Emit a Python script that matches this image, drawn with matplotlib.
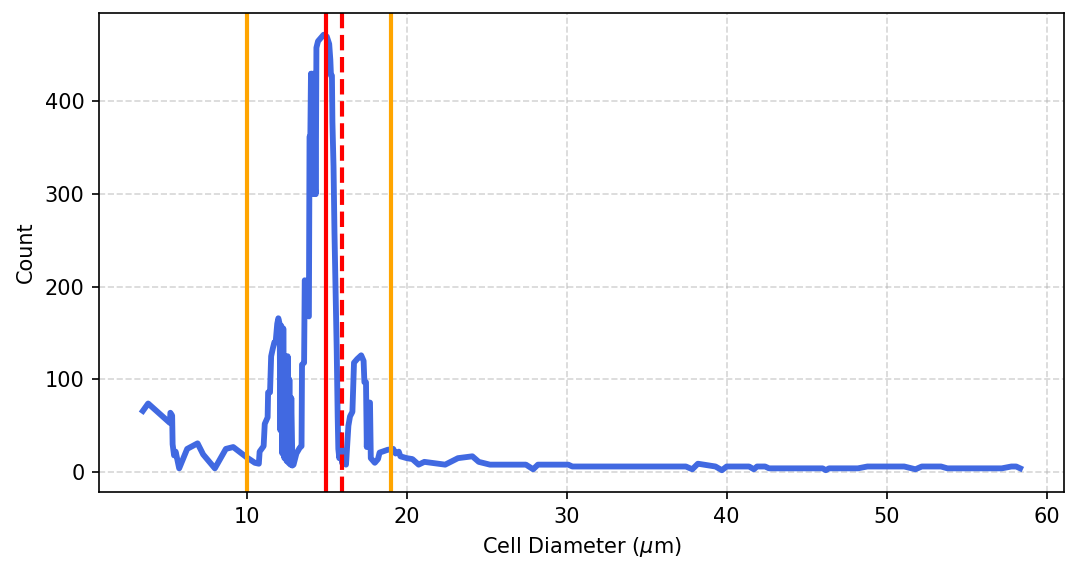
import numpy as np
import matplotlib.pyplot as plt

# cell diameter histogram (um) and counts per bin
diameter = [
    3.50, 3.83, 5.19, 5.22, 5.33, 5.36, 5.45, 5.55, 5.77, 6.27, 6.92, 7.27,
    8.00, 8.69, 9.15, 9.98, 10.50, 10.75, 10.80, 11.05, 11.12, 11.30, 11.33,
    11.45, 11.52, 11.62, 11.72, 11.80, 11.90, 11.97, 12.05, 12.10, 12.15,
    12.22, 12.28, 12.35, 12.42, 12.48, 12.55, 12.60, 12.66, 12.72, 12.78,
    12.85, 12.92, 13.10, 13.30, 13.42, 13.45, 13.58, 13.62, 13.70, 13.78,
    13.88, 13.92, 13.97, 14.01, 14.04, 14.07, 14.10, 14.13, 14.16, 14.19,
    14.22, 14.25, 14.28, 14.31, 14.35, 14.45, 14.60, 14.80, 15.00, 15.15,
    15.22, 15.26, 15.32, 15.35, 15.42, 15.48, 15.55, 15.62, 15.68, 15.72,
    15.78, 15.85, 15.95, 16.10, 16.20, 16.35, 16.45, 16.60, 16.70, 16.90,
    17.15, 17.30, 17.35, 17.45, 17.50, 17.55, 17.70, 17.75, 18.00, 18.20,
    18.30, 18.80, 19.15, 19.30, 19.50, 19.60, 20.00, 20.35, 20.74, 21.10,
    22.40, 23.20, 24.10, 24.50, 25.20, 27.45, 27.90, 28.20, 30.10, 30.35,
    37.45, 37.85, 38.20, 39.30, 39.70, 40.00, 41.40, 41.70, 41.90, 42.40,
    42.65, 46.00, 46.20, 46.40, 48.20, 48.80, 51.10, 51.80, 52.20, 53.40,
    53.80, 57.20, 57.80, 58.10, 58.35,
]
count = [
    66, 74, 53, 64, 61, 30, 18, 22, 4, 25, 31, 19,
    4, 25, 27, 16, 10, 9, 22, 28, 52, 59, 86,
    86, 125, 133, 140, 140, 160, 166, 160, 45, 158,
    20, 155, 15, 125, 12, 125, 10, 100, 8, 80,
    7, 8, 20, 26, 28, 116, 118, 207, 206, 170,
    168, 362, 362, 430, 305, 430, 300, 428, 302, 430,
    300, 428, 305, 300, 458, 465, 468, 472, 470, 462,
    445, 428, 428, 378, 330, 258, 196, 131, 60, 25,
    15, 40, 10, 12, 8, 50, 60, 65, 118, 122,
    126, 120, 97, 97, 27, 75, 75, 15, 10, 14,
    21, 24, 25, 20, 22, 17, 15, 14, 8, 11,
    8, 15, 17, 11, 8, 8, 3, 8, 8, 6,
    6, 3, 9, 6, 2, 6, 6, 3, 6, 6,
    4, 4, 2, 4, 4, 6, 6, 3, 6, 6,
    4, 4, 6, 6, 4,
]

gate_low, gate_high = 10.0, 19.0
mean_diam = 14.92
median_diam = 15.92

fig, ax = plt.subplots(figsize=(7.12, 3.76), dpi=150)
fig.subplots_adjust(left=0.0927, right=0.9963, top=0.977, bottom=0.1277)

ax.plot(diameter, count, color="royalblue", lw=2.8)
ax.axvline(gate_low, color="orange", lw=2)
ax.axvline(gate_high, color="orange", lw=2)
ax.axvline(mean_diam, color="red", lw=2)
ax.axvline(median_diam, color="red", lw=2, linestyle="--")

ax.set_xlabel(r"Cell Diameter ($\mu$m)")
ax.set_ylabel("Count")
ax.grid(True, linestyle="--", alpha=0.5)

fig.savefig("out.png", dpi=150)
